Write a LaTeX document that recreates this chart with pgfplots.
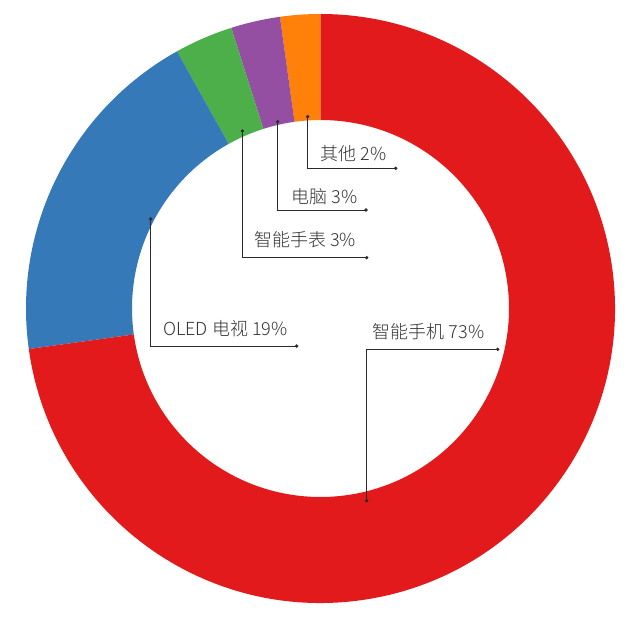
\documentclass[border=0pt]{standalone}
\usepackage{fontspec}
\setmainfont{Noto Sans CJK SC}[UprightFont={* Light}]
\usepackage{pgfplots}
\usepackage{pgfplotstable}
\pgfplotsset{compat=1.18}
\definecolor{setR}{HTML}{E31A1C}
\definecolor{setB}{HTML}{3579B8}
\definecolor{setG}{HTML}{4DAF4A}
\definecolor{setP}{HTML}{944FA2}
\definecolor{setO}{HTML}{FF8109}
\definecolor{txt}{HTML}{333333}
\definecolor{lead}{HTML}{2A2A2A}

% shares in per cent, counter-clockwise from 12 o'clock
\pgfplotstableread{
name   share color
other  2.2   setO
pc     2.7   setP
watch  3.2   setG
tv     19.1  setB
phone  72.8  setR
}\sharetable

\newcommand\lab{\fontsize{18bp}{20bp}\selectfont\color{txt}}
\begin{document}
\begin{tikzpicture}
\begin{axis}[
  scale only axis, width=640bp, height=621bp,
  xmin=0, xmax=640, ymin=0, ymax=621,
  hide axis, clip=false,
  leader/.style={lead, line width=0.7bp, mark=*, mark size=1.3bp,
     mark options={fill=lead, draw=lead}, mark indices={1,3}},
]
\fill[white] (axis cs:0,0) rectangle (axis cs:640,621);
\pgfplotsextra{%
  \pgfplotstablegetrowsof{\sharetable}%
  \pgfmathtruncatemacro{\nrows}{\pgfplotsretval-1}%
  \xdef\startang{90}%
  \foreach \i in {0,...,\nrows}{%
    \pgfplotstablegetelem{\i}{share}\of\sharetable\let\sh\pgfplotsretval
    \pgfplotstablegetelem{\i}{color}\of\sharetable\let\col\pgfplotsretval
    \pgfmathsetmacro{\endang}{\startang+3.6*\sh}%
    \fill[\col] (axis cs:320.5,312.5) ++(\startang:294.5bp)
      arc[start angle=\startang, end angle=\endang, radius=294.5bp]
      -- ([shift={(\endang:188.5bp)}]axis cs:320.5,312.5)
      arc[start angle=\endang, end angle=\startang, radius=188.5bp] -- cycle;
    \xdef\startang{\endang}%
  }%
}
% leader lines
\addplot[leader] coordinates {(307.7,504.3) (307.7,452.7) (395.7,452.7)};
\addplot[leader] coordinates {(277.7,499.3) (277.7,411) (366,411)};
\addplot[leader] coordinates {(242.3,490) (242.3,363.3) (366.7,363.3)};
\addplot[leader] coordinates {(150.7,402) (150.7,275) (296.7,275)};
\addplot[leader] coordinates {(366.7,120.3) (366.7,271.7) (497.7,271.7)};
% labels
\node[anchor=base west, inner sep=0pt] at (axis cs:320.7,460) {\lab 其他 2\%};
\node[anchor=base west, inner sep=0pt] at (axis cs:291.7,417.5) {\lab 电脑 3\%};
\node[anchor=base west, inner sep=0pt] at (axis cs:254,374.5) {\lab 智能手表 3\%};
\node[anchor=base west, inner sep=0pt] at (axis cs:163,286) {\lab OLED 电视 19\%};
\node[anchor=base west, inner sep=0pt] at (axis cs:372.7,283) {\lab 智能手机 73\%};
\end{axis}
\end{tikzpicture}
\end{document}
